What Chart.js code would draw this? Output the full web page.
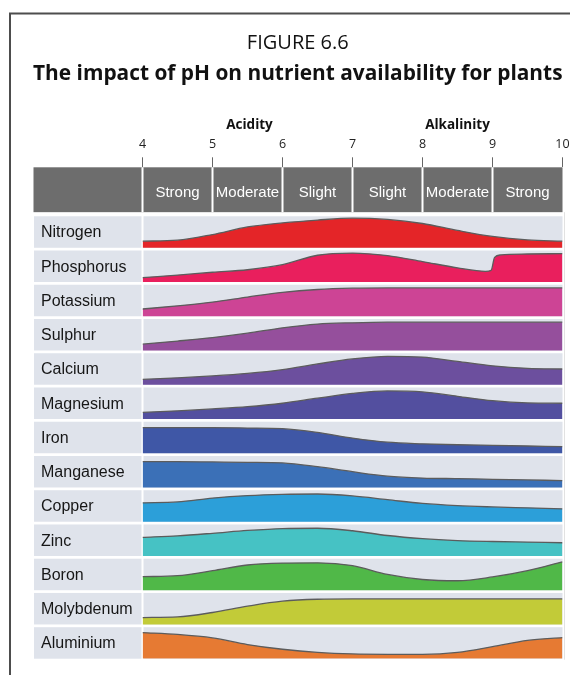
<!DOCTYPE html>
<html>
<head>
<meta charset="utf-8">
<title>FIGURE 6.6</title>
<script src="https://cdn.jsdelivr.net/npm/chart.js"></script>
<style>
    body { margin: 0; background: #fff; }
    canvas { display: block; }
</style>
</head>
<body>
<canvas id="chart" width="570" height="675"></canvas>
<script>
// pH scale and band names
const phTicks = [4, 5, 6, 7, 8, 9, 10];
const bandNames = ['Strong', 'Moderate', 'Slight', 'Slight', 'Moderate', 'Strong'];
const sideNames = ['Acidity', 'Alkalinity'];

// availability levels (0 = none, 1 = full row) sampled along pH
const phSteps = [4, 4.5, 5, 5.5, 6, 6.5, 7, 7.5, 8, 8.5, 9, 9.5, 10];
const phosphorusSteps = [4, 4.5, 5, 5.5, 6, 6.5, 7, 7.5, 8, 8.5, 8.9, 8.98, 9.03, 9.12, 9.5, 10];

const nutrients = ['Nitrogen', 'Phosphorus', 'Potassium', 'Sulphur', 'Calcium', 'Magnesium', 'Iron',
    'Manganese', 'Copper', 'Zinc', 'Boron', 'Molybdenum', 'Aluminium'];

const nitrogen   = [0.21, 0.24, 0.42, 0.66, 0.79, 0.88, 0.94, 0.90, 0.77, 0.55, 0.36, 0.25, 0.21];
const phosphorus = [0.14, 0.22, 0.31, 0.39, 0.55, 0.85, 0.92, 0.84, 0.65, 0.45, 0.34, 0.37, 0.78, 0.86, 0.89, 0.90];
const potassium  = [0.23, 0.33, 0.45, 0.61, 0.76, 0.85, 0.89, 0.90, 0.90, 0.90, 0.90, 0.90, 0.90];
const sulphur    = [0.20, 0.30, 0.41, 0.55, 0.72, 0.84, 0.88, 0.90, 0.90, 0.90, 0.90, 0.90, 0.90];
const calcium    = [0.17, 0.22, 0.28, 0.36, 0.48, 0.66, 0.82, 0.90, 0.88, 0.74, 0.60, 0.52, 0.50];
const magnesium  = [0.21, 0.26, 0.32, 0.39, 0.50, 0.66, 0.81, 0.89, 0.86, 0.72, 0.58, 0.51, 0.50];
const iron       = [0.81, 0.81, 0.81, 0.80, 0.78, 0.66, 0.48, 0.35, 0.30, 0.27, 0.25, 0.23, 0.21];
const manganese  = [0.82, 0.82, 0.81, 0.80, 0.78, 0.66, 0.50, 0.36, 0.30, 0.28, 0.26, 0.24, 0.22];
const copper     = [0.60, 0.63, 0.75, 0.83, 0.87, 0.88, 0.82, 0.70, 0.58, 0.51, 0.47, 0.44, 0.41];
const zinc       = [0.59, 0.64, 0.72, 0.81, 0.87, 0.88, 0.80, 0.65, 0.55, 0.49, 0.46, 0.44, 0.42];
const boron      = [0.43, 0.46, 0.62, 0.80, 0.86, 0.87, 0.78, 0.50, 0.34, 0.30, 0.42, 0.62, 0.90];
const molybdenum = [0.22, 0.24, 0.38, 0.58, 0.74, 0.80, 0.81, 0.81, 0.81, 0.81, 0.81, 0.81, 0.81];
const aluminium  = [0.83, 0.77, 0.66, 0.45, 0.30, 0.20, 0.15, 0.14, 0.14, 0.20, 0.38, 0.58, 0.67];

const levels = [nitrogen, phosphorus, potassium, sulphur, calcium, magnesium, iron,
    manganese, copper, zinc, boron, molybdenum, aluminium];

const colors = ['#e42528', '#e91f5d', '#cd4495', '#954f9c', '#6c4f9e', '#534f9f', '#3f57a6',
    '#3b70b7', '#2c9fd9', '#46c2c4', '#50b848', '#c2cb38', '#e67a33'];

// layout of the rows in y units (one unit per row)
const ROW_H = 0.92;
const BAND_BOTTOM = 13.04;
const Y_MAX = 14.35;
const ROW_BG = '#dfe3eb';

const rowBase = i => nutrients.length - 1 - i;

const datasets = nutrients.map((name, i) => {
    const xs = name === 'Phosphorus' ? phosphorusSteps : phSteps;
    const base = rowBase(i);
    return {
        label: name,
        data: xs.map((x, j) => ({ x: x, y: base + levels[i][j] * ROW_H })),
        backgroundColor: colors[i],
        borderColor: '#5c5c5c',
        borderWidth: 1.3,
        pointRadius: 0,
        cubicInterpolationMode: 'monotone',
        fill: { value: base }
    };
});

const panels = {
    id: 'panels',
    beforeDraw(chart) {
        const ctx = chart.ctx;
        ctx.save();
        ctx.fillStyle = '#fff';
        ctx.fillRect(0, 0, chart.width, chart.height);
        // frame
        ctx.strokeStyle = '#4d4d4d';
        ctx.lineWidth = 2;
        ctx.beginPath();
        ctx.moveTo(10, chart.height);
        ctx.lineTo(10, 13.5);
        ctx.lineTo(chart.width, 13.5);
        ctx.stroke();
        ctx.restore();
    },
    beforeDatasetsDraw(chart) {
        const ctx = chart.ctx;
        const x = chart.scales.x, y = chart.scales.y;
        const x0 = x.getPixelForValue(phTicks[0]);
        const x1 = x.getPixelForValue(phTicks[phTicks.length - 1]);
        const left = y.left + 1;
        ctx.save();

        // header band
        const bTop = y.getPixelForValue(Y_MAX), bBot = y.getPixelForValue(BAND_BOTTOM);
        ctx.fillStyle = '#6d6d6d';
        ctx.fillRect(left - 0.5, bTop, x1 - left + 0.5, bBot - bTop);
        ctx.fillStyle = '#fff';
        phTicks.slice(0, -1).forEach(v => {
            ctx.fillRect(x.getPixelForValue(v) - 1, bTop, 2, bBot - bTop);
        });
        ctx.font = '15px "Liberation Sans", Arial, sans-serif';
        ctx.textAlign = 'center';
        ctx.textBaseline = 'middle';
        bandNames.forEach((n, i) => {
            const cx = x.getPixelForValue((phTicks[i] + phTicks[i + 1]) / 2);
            ctx.fillText(n, cx, (bTop + bBot) / 2 + 3);
        });

        // acidity / alkalinity headings
        ctx.fillStyle = '#111';
        ctx.font = 'bold 13.5px "Open Sans", sans-serif';
        ctx.fillText(sideNames[0], x.getPixelForValue(5.5) + 2, 125.5);
        ctx.fillText(sideNames[1], x.getPixelForValue(8.5), 125.5);

        // row boxes and names
        ctx.font = '16px "Liberation Sans", Arial, sans-serif';
        ctx.textAlign = 'left';
        nutrients.forEach((n, i) => {
            const b = rowBase(i);
            const top = y.getPixelForValue(b + ROW_H), bot = y.getPixelForValue(b);
            ctx.fillStyle = ROW_BG;
            ctx.fillRect(left, top, x0 - 1 - left, bot - top);
            ctx.fillRect(x0 + 1, top, x1 - x0 - 1, bot - top);
            ctx.fillStyle = '#161616';
            ctx.fillText(n, left + 7, (top + bot) / 2 + 1);
        });

        // faint right edge
        ctx.strokeStyle = '#e2e2e2';
        ctx.lineWidth = 1;
        ctx.beginPath();
        ctx.moveTo(x1 + 2, bBot);
        ctx.lineTo(x1 + 2, y.getPixelForValue(0) + 1);
        ctx.stroke();
        ctx.restore();
    }
};

new Chart(document.getElementById('chart'), {
    type: 'line',
    data: { datasets: datasets },
    options: {
        responsive: false,
        animation: false,
        events: [],
        layout: { padding: { left: 33, right: 7.5, top: 0, bottom: 16.3 } },
        plugins: {
            legend: { display: false },
            tooltip: { enabled: false },
            title: {
                display: true,
                text: 'FIGURE 6.6',
                color: '#111',
                font: { family: '"Open Sans", sans-serif', size: 20, weight: 'normal' },
                padding: { top: 31, bottom: 0 }
            },
            subtitle: {
                display: true,
                text: 'The impact of pH on nutrient availability for plants',
                color: '#111',
                font: { family: '"Open Sans", sans-serif', size: 21, weight: 'bold' },
                padding: { top: 6, bottom: 0 }
            }
        },
        scales: {
            x: {
                type: 'linear',
                position: 'top',
                min: 4,
                max: 10,
                afterBuildTicks(s) { s.ticks = phTicks.map(v => ({ value: v })); },
                afterFit(s) {
                    s.height = 167.3 - 86.2;
                    s.paddingLeft = 0;
                    s.paddingRight = 0;
                },
                ticks: {
                    color: '#222',
                    padding: 5,
                    font: { family: '"Open Sans", sans-serif', size: 12.5 }
                },
                grid: { drawOnChartArea: false, tickLength: 10, color: '#666', lineWidth: 1 },
                border: { display: false }
            },
            y: {
                min: 0,
                max: Y_MAX,
                afterFit(s) { s.width = 109.5; },
                ticks: { display: false },
                grid: { display: false },
                border: { display: false }
            }
        }
    },
    plugins: [panels]
});
</script>
</body>
</html>
